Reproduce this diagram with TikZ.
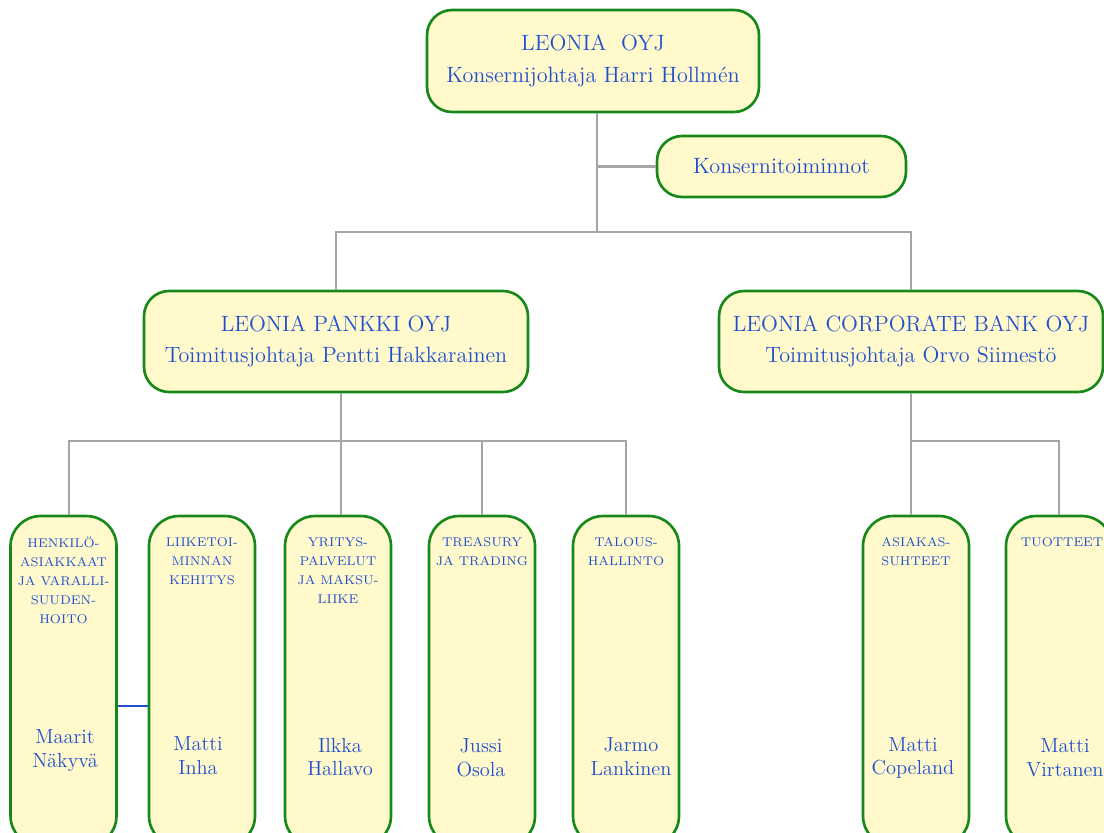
\documentclass[tikz,border=0pt]{standalone}
\usepackage{tikz}
\definecolor{boxfill}{HTML}{FFF9CC}
\definecolor{boxline}{HTML}{17891B}
\definecolor{txtblue}{HTML}{1F4FCF}
\definecolor{linkgray}{HTML}{A5A5A5}

\begin{document}
\begin{tikzpicture}[x=0.02cm, y=-0.02cm,
    orgbox/.style={draw=boxline, line width=1.5pt, fill=boxfill, rounded corners=0.5cm,
      text=txtblue, align=center, font=\fontsize{12.6}{18}\selectfont, inner sep=0pt},
    unitbox/.style={draw=boxline, line width=1.5pt, fill=boxfill, rounded corners=0.6cm,
      minimum width=2.12cm, minimum height=6.6cm, inner sep=0pt},
    dept/.style={text=txtblue, align=center, font=\fontsize{7.2}{10.8}\selectfont,
      inner sep=0pt, anchor=north},
    person/.style={text=txtblue, align=center, font=\fontsize{11.6}{13.6}\selectfont, inner sep=0pt},
    link/.style={draw=linkgray, line width=1.3pt}]
                \useasboundingbox (0,0) rectangle (1104,832);
                \clip (0,0) rectangle (1104,832);

                % Group level
                \node[orgbox, minimum width=6.64cm, minimum height=2.04cm] (konserni) at (593,61)
                    {LEONIA\ \ OYJ\\Konsernijohtaja Harri Hollmén};
                \node[orgbox, minimum width=4.98cm, minimum height=1.22cm] (toiminnot) at (781.5,166.5)
                    {Konsernitoiminnot};

                % Banks
                \node[orgbox, minimum width=7.68cm, minimum height=2.02cm] (pankki) at (336,341.5)
                    {LEONIA PANKKI OYJ\\Toimitusjohtaja Pentti Hakkarainen};
                \node[orgbox, minimum width=7.68cm, minimum height=2.02cm] (corp) at (911,341.5)
                    {LEONIA CORPORATE BANK OYJ\\Toimitusjohtaja Orvo Siimestö};

                % Units
                \node[unitbox] (unit1) at (63.5,681) {};
                \node[unitbox] (unit2) at (202,681) {};
                \node[unitbox] (unit3) at (338,681) {};
                \node[unitbox] (unit4) at (482,681) {};
                \node[unitbox] (unit5) at (626,681) {};
                \node[unitbox] (unit6) at (916,681) {};
                \node[unitbox] (unit7) at (1059,681) {};

                % Unit titles
                \node[dept] (dept1) at (63.5,537) {HENKILÖ-\\ASIAKKAAT\\JA VARALLI-\\SUUDEN-\\HOITO};
                \node[dept] (dept2) at (202,537) {LIIKETOI-\\MINNAN\\KEHITYS};
                \node[dept] (dept3) at (338,537) {YRITYS-\\PALVELUT\\JA MAKSU-\\LIIKE};
                \node[dept] (dept4) at (482,537) {TREASURY\\JA TRADING};
                \node[dept] (dept5) at (626,537) {TALOUS-\\HALLINTO};
                \node[dept] (dept6) at (916,537) {ASIAKAS-\\SUHTEET};
                \node[dept] (dept7) at (1062,537) {TUOTTEET};

                % Unit heads
                \node[person] (head1) at (65,751) {Maarit\\Näkyvä};
                \node[person] (head2) at (198,756) {Matti\\Inha};
                \node[person] (head3) at (340,757) {Ilkka\\Hallavo};
                \node[person] (head4) at (481,758) {Jussi\\Osola};
                \node[person] (head5) at (631,757) {Jarmo\\Lankinen};
                \node[person] (head6) at (913,758) {Matti\\Copeland};
                \node[person] (head7) at (1065,758) {Matti\\Virtanen};

                % Connections
                \coordinate (j0) at (597,232);
                \coordinate (j1) at (341,441);
                \draw[link] (konserni.south -| j0) -- (j0);
                \draw[link] (toiminnot.west) -- (toiminnot.west -| j0);
                \draw[link] (pankki.north) |- (j0) -| (corp.north);

                \draw[link] (pankki.south -| j1) -- (j1 |- unit3.north);
                \draw[link] ([xshift=0.11cm]unit1.north) |- (unit5.north |- j1) -- (unit5.north);
                \draw[link] (unit4.north) -- (unit4.north |- j1);

                \draw[link] (corp.south) -- (corp.south |- unit6.north);
                \draw[link] (corp.south |- j1) -| (unit7.north);

                \draw[draw=txtblue, line width=1.5pt] ([yshift=-0.5cm]unit1.east) -- ([yshift=-0.5cm]unit2.west);
            \end{tikzpicture}
\end{document}
